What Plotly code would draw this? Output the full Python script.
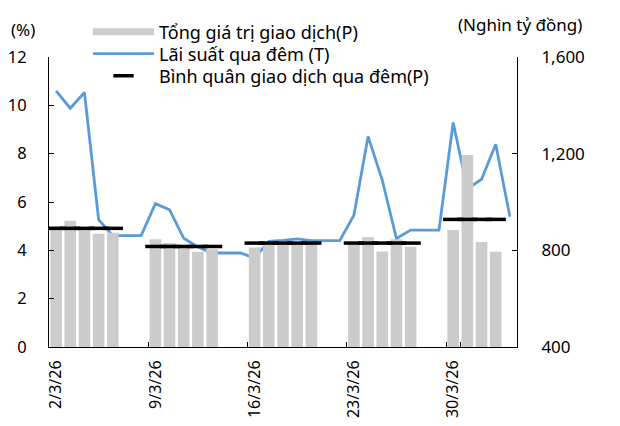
import plotly.graph_objects as go

# ---- data ----
dates = ["2/3/26", "3/3/26", "4/3/26", "5/3/26", "6/3/26", "7/3/26", "8/3/26",
         "9/3/26", "10/3/26", "11/3/26", "12/3/26", "13/3/26", "14/3/26", "15/3/26",
         "16/3/26", "17/3/26", "18/3/26", "19/3/26", "20/3/26", "21/3/26", "22/3/26",
         "23/3/26", "24/3/26", "25/3/26", "26/3/26", "27/3/26", "28/3/26", "29/3/26",
         "30/3/26", "31/3/26", "1/4/26", "2/4/26", "3/4/26"]

# Tổng giá trị giao dịch (nghìn tỷ đồng), None = weekend / not available
total_value = [900, 922, 885, 869, 873, None, None,
               846, 830, 815, 794, 804, None, None,
               812, 835, 838, 833, 832, None, None,
               824, 855, 795, 846, 815, None, None,
               884, 1195, 835, 794, None]

# Lãi suất qua đêm (%)
overnight_rate = [10.60, 9.88, 10.53, 5.27, 4.61, 4.61, 4.61,
                  5.93, 5.68, 4.50, 4.14, 3.89, 3.89, 3.89,
                  3.68, 4.37, 4.41, 4.47, 4.40, 4.40, 4.40,
                  5.45, 8.71, 6.91, 4.49, 4.84, 4.84, 4.84,
                  9.29, 6.54, 6.94, 8.39, 5.39]

# Bình quân giao dịch qua đêm (nghìn tỷ đồng), weekly average
weekly_avg = [891, 891, 891, 891, 891, None, None,
              816, 816, 816, 816, 816, None, None,
              830, 830, 830, 830, 830, None, None,
              830, 830, 830, 830, 830, None, None,
              928, 928, 928, 928, None]

week_labels = ["2/3/26", "9/3/26", "16/3/26", "23/3/26", "30/3/26"]

FONT = "Noto Sans"
OFF = 8                      # page body margin
W, H = 620 - OFF, 426 - OFF
PL, PT, PR, PB = 49, 57, 517, 347   # plot area in page pixels
L, T = PL - OFF, PT - OFF
R, B = W - (PR - OFF), H - (PB - OFF)
pw, ph = PR - PL, PB - PT

def px(x):
    return (x - PL) / pw

def py(y):
    return (PB - y) / ph

BAR_C = "#cccccc"
LINE_C = "#5b9bd5"

fig = go.Figure()

fig.add_trace(go.Bar(
    x=dates, y=total_value, yaxis="y2",
    name="Tổng giá trị giao dịch(P)", showlegend=False,
    marker=dict(color=BAR_C, line=dict(width=0)),
    width=0.82,
))

# legend-only proxy for the bar series (wide grey key)
fig.add_trace(go.Scatter(
    x=[None], y=[None], yaxis="y2", mode="lines",
    name="Tổng giá trị giao dịch(P)", legend="legend",
    line=dict(color=BAR_C, width=7),
))

fig.add_trace(go.Scatter(
    x=dates, y=overnight_rate, yaxis="y",
    name="Lãi suất qua đêm (T)", mode="lines", legend="legend2",
    line=dict(color=LINE_C, width=2.8),
))

fig.add_trace(go.Scatter(
    x=dates, y=weekly_avg, yaxis="y2",
    name="Bình quân giao dịch qua đêm(P)", mode="markers", legend="legend3",
    marker=dict(symbol="line-ew", size=14.5,
                line=dict(color="black", width=3.5)),
))

def leg(ycenter):
    return dict(
        x=px(88), y=py(ycenter), xanchor="left", yanchor="middle",
        bgcolor="rgba(0,0,0,0)", font=dict(size=18, family=FONT, color="black"),
        itemwidth=61, tracegroupgap=0,
    )

fig.update_layout(
    width=W, height=H,
    margin=dict(l=L, r=R, t=T, b=B, pad=0, autoexpand=False),
    paper_bgcolor="white", plot_bgcolor="white",
    font=dict(family=FONT, size=16, color="black"),
    showlegend=True,
    legend=leg(32),
    legend2=leg(54),
    legend3=leg(76),
    xaxis=dict(
        type="category", categoryorder="array", categoryarray=dates,
        tickmode="array", tickvals=week_labels, ticktext=week_labels,
        tickson="boundaries", ticks="inside", ticklen=5, tickcolor="black",
        tickangle=-90, tickfont=dict(size=16), automargin=False,
        ticklabelstandoff=6,
        showline=True, linecolor="black", linewidth=1,
        showgrid=False, zeroline=False,
        range=[-0.5, len(dates) - 0.5],
    ),
    yaxis=dict(
        range=[0, 12], dtick=2, tickmode="linear", tick0=0,
        ticks="inside", ticklen=5, tickcolor="black", automargin=False,
        showline=True, linecolor="black", linewidth=1,
        showgrid=False, zeroline=False,
        ticklabelstandoff=18, tickfont=dict(size=16.5),
    ),
    yaxis2=dict(
        overlaying="y", side="right",
        range=[400, 1600], dtick=400, tickmode="linear", tick0=400,
        tickformat=",d", automargin=False,
        ticks="inside", ticklen=5, tickcolor="black",
        showline=True, linecolor="black", linewidth=1,
        showgrid=False, zeroline=False,
        ticklabelstandoff=20, tickfont=dict(size=17),
    ),
    shapes=[dict(type="line", xref="paper", yref="paper",
                 x0=px(OFF), x1=px(620), y0=py(5), y1=py(5),
                 line=dict(color="black", width=4))],
    annotations=[
        dict(text="(%)", xref="paper", yref="paper", x=px(9), y=py(29),
             xanchor="left", yanchor="middle", showarrow=False,
             font=dict(size=17)),
        dict(text="(Nghìn tỷ đồng)", xref="paper", yref="paper", x=px(584), y=py(24),
             xanchor="right", yanchor="middle", showarrow=False,
             font=dict(size=17)),
    ],
)

fig.write_html("out.html")
